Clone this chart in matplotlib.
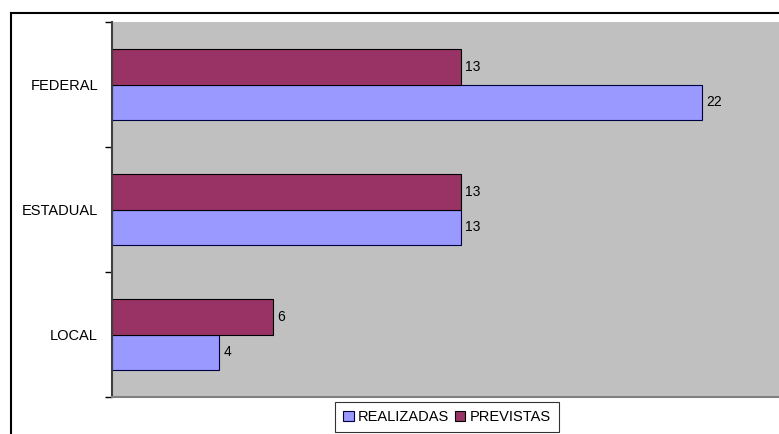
import numpy as np
import matplotlib.pyplot as plt

plt.rcParams['font.family'] = ['Liberation Sans', 'DejaVu Sans']

categorias = ['LOCAL', 'ESTADUAL', 'FEDERAL']
realizadas = [4, 13, 22]
previstas = [6, 13, 13]

fig = plt.figure(figsize=(7.79, 4.34), dpi=100)
ax = fig.add_axes([112 / 779, 1 - 397 / 434, 671 / 779, 375 / 434])
ax.set_facecolor('#C0C0C0')

y = np.arange(len(categorias))
h = 0.286
b1 = ax.barh(y - h / 2, realizadas, height=h, color='#9999FF',
             edgecolor='#000040', linewidth=0.8, label='REALIZADAS')
b2 = ax.barh(y + h / 2, previstas, height=h, color='#993366',
             edgecolor='#000000', linewidth=0.8, label='PREVISTAS')

for bars in (b1, b2):
    for r in bars:
        ax.text(r.get_width() + 0.15, r.get_y() + r.get_height() / 2,
                str(int(r.get_width())), va='center', ha='left', fontsize=10)

ax.set_xlim(0, 25)
ax.set_ylim(-0.5, 2.5)
ax.set_xticks([])
ax.set_yticks(y)
ax.set_yticklabels(categorias, fontsize=10.5)
ax.tick_params(axis='y', which='major', length=0, pad=10)
ax.set_yticks([-0.5, 0.5, 1.5, 2.5], minor=True)
ax.tick_params(axis='y', which='minor', length=5, width=1, color='#000000', direction='out')

ax.spines['top'].set_visible(False)
ax.spines['right'].set_visible(False)
ax.spines['left'].set_color('#404040')
ax.spines['left'].set_linewidth(1.5)
ax.spines['bottom'].set_color('#808080')
ax.spines['bottom'].set_linewidth(1.5)

# outer chart border (only left and top edges fall inside the picture)
top = 1 - 12.5 / 434
left = 10.5 / 779
fig.add_artist(plt.Line2D([left, 1.0], [top, top], transform=fig.transFigure,
                          color='black', linewidth=1.5))
fig.add_artist(plt.Line2D([left, left], [0.0, top], transform=fig.transFigure,
                          color='black', linewidth=1.5))

leg = fig.legend(handles=[b1, b2], loc='upper center',
                 bbox_to_anchor=(447 / 779, 1 - 402 / 434), ncol=2,
                 fontsize=10.5, frameon=True, fancybox=False,
                 handlelength=0.7, handleheight=0.7, handletextpad=0.3,
                 columnspacing=0.4, borderpad=0.55, borderaxespad=0)
leg.get_frame().set_edgecolor('black')
leg.get_frame().set_linewidth(0.8)

fig.savefig('out.png', dpi=100)
